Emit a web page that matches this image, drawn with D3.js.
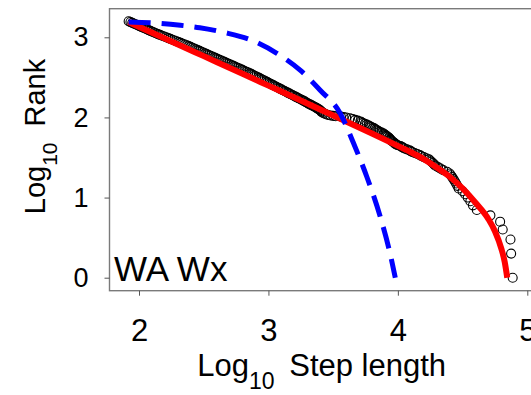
<!DOCTYPE html>
<html><head><meta charset="utf-8">
<script src="https://cdn.jsdelivr.net/npm/d3@7"></script>
<style>
body{margin:0;background:#fff}
svg{display:block}
text{font-family:"Liberation Sans",Arial,sans-serif;fill:#000}
</style>
</head><body>
<svg id="c" width="531" height="395"></svg>
<script>
// ---------- data ----------
const xTicks = [2, 3, 4, 5];
const yTicks = [0, 1, 2, 3];
const panelLabel = "WA Wx";

// observed points: log10 rank and log10 step length
const obsLogRank = [
3.20,3.19,3.18,3.17,3.16,3.15,3.14,3.13,3.12,3.11,3.10,3.09,3.08,3.07,3.06,3.05,3.04,3.03,3.02,3.01,
3.00,2.99,2.98,2.97,2.96,2.95,2.94,2.93,2.92,2.91,2.90,2.89,2.88,2.87,2.86,2.85,2.84,2.83,2.82,2.81,
2.80,2.79,2.78,2.77,2.76,2.75,2.74,2.73,2.72,2.71,2.70,2.69,2.68,2.67,2.66,2.65,2.64,2.63,2.62,2.61,
2.60,2.59,2.58,2.57,2.56,2.55,2.54,2.53,2.52,2.51,2.50,2.49,2.48,2.47,2.46,2.45,2.44,2.43,2.42,2.41,
2.40,2.39,2.38,2.37,2.36,2.35,2.34,2.33,2.32,2.31,2.30,2.29,2.28,2.27,2.26,2.25,2.24,2.23,2.22,2.21,
2.20,2.19,2.18,2.17,2.16,2.15,2.14,2.13,2.12,2.11,2.10,2.09,2.08,2.07,2.06,2.05,2.04,2.03,2.025,2.02,
2.015,2.01,2.005,2.00,1.99,1.98,1.97,1.96,1.95,1.94,1.93,1.92,1.91,1.90,1.89,1.88,1.87,1.86,1.85,1.84,
1.83,1.82,1.81,1.80,1.79,1.78,1.77,1.76,1.75,1.74,1.73,1.72,1.71,1.70,1.69,1.68,1.67,1.66,
1.653,1.643,1.633,1.623,1.613,1.602,1.591,1.580,1.568,1.556,1.544,1.531,1.519,1.505,1.491,1.477,
1.462,1.447,1.431,1.415,1.398,1.380,1.362,1.342,1.322,1.301,1.279,1.255,1.230,1.204,1.176,1.146,
1.114,1.079,1.041,1.000,0.954,0.903,0.845,0.778,0.699,0.602,0.477,0.301,0.000
];
const obsLogStep = [
1.920,1.934,1.948,1.962,1.976,1.990,2.004,2.018,2.032,2.046,2.060,2.074,2.088,2.102,2.116,2.130,2.146,2.162,2.178,2.194,
2.210,2.226,2.242,2.258,2.274,2.290,2.306,2.322,2.338,2.354,2.370,2.384,2.398,2.412,2.426,2.440,2.454,2.468,2.482,2.496,
2.510,2.524,2.538,2.552,2.566,2.580,2.594,2.608,2.622,2.636,2.650,2.664,2.678,2.692,2.706,2.720,2.734,2.748,2.762,2.776,
2.790,2.802,2.816,2.830,2.844,2.858,2.870,2.882,2.894,2.906,2.920,2.932,2.944,2.956,2.968,2.980,2.992,3.004,3.016,3.028,
3.040,3.052,3.064,3.076,3.088,3.100,3.112,3.124,3.136,3.148,3.160,3.172,3.184,3.196,3.208,3.220,3.232,3.244,3.256,3.268,
3.280,3.290,3.300,3.312,3.324,3.335,3.348,3.360,3.370,3.380,3.390,3.400,3.405,3.410,3.420,3.430,3.445,3.460,3.480,3.500,
3.520,3.560,3.580,3.600,3.630,3.650,3.670,3.690,3.710,3.720,3.730,3.745,3.760,3.775,3.785,3.795,3.810,3.820,3.830,3.840,
3.850,3.860,3.875,3.890,3.895,3.905,3.910,3.920,3.930,3.935,3.940,3.945,3.950,3.960,3.965,3.975,3.980,3.990,
4.00,4.02,4.03,4.04,4.05,4.07,4.09,4.10,4.11,4.13,4.15,4.17,4.18,4.20,4.22,4.24,
4.25,4.26,4.27,4.28,4.29,4.31,4.33,4.35,4.38,4.40,4.41,4.42,4.43,4.44,4.45,4.46,
4.47,4.50,4.52,4.54,4.56,4.58,4.61,4.715,4.79,4.81,4.87,4.875,4.887
];

// fitted curve (red, solid)
const fitLogStep = [1.92,2.2,2.5,2.8,3.0,3.2,3.4,3.6,3.8,4.0,4.1,4.2,4.3,4.4,4.5,4.6,4.7,4.75,4.8,4.825,4.845];
const fitLogRank = [3.19,2.985,2.765,2.545,2.397,2.249,2.10,1.95,1.80,1.645,1.565,1.48,1.375,1.26,1.115,0.935,0.73,0.58,0.36,0.20,0.00];

// alternative model (blue, dashed)
const altLogStep = [1.92,2.15,2.32,2.47,2.66,2.86,3.065,3.245,3.40,3.555,3.657,3.76,3.864,3.94,3.98];
const altLogRank = [3.19,3.175,3.15,3.12,3.06,2.97,2.80,2.59,2.34,2.05,1.68,1.26,0.76,0.30,0.00];

// ---------- drawing ----------
const svg = d3.select("#c");
const x = d3.scaleLinear().domain([2, 5]).range([139, 527.3]);
const y = d3.scaleLinear().domain([0, 3]).range([277.7, 37.3]);

// box
svg.append("rect")
  .attr("x", 109.5).attr("y", 8.7)
  .attr("width", 440).attr("height", 282)
  .attr("fill", "none").attr("stroke", "#7a7a7a").attr("stroke-width", 1.4);

// axes
const xAxis = svg.append("g").attr("transform", "translate(0,290.7)")
  .call(d3.axisBottom(x).tickValues(xTicks).tickSize(5).tickPadding(23).tickFormat(d3.format("d")));
xAxis.select(".domain").remove();
xAxis.selectAll("line").attr("stroke", "#555");
xAxis.selectAll("text").attr("font-size", 31).attr("fill", "#000")
  .style("font-family", "'Liberation Sans',Arial,sans-serif");

const yAxis = svg.append("g").attr("transform", "translate(109.5,0)")
  .call(d3.axisLeft(y).tickValues(yTicks).tickSize(5).tickPadding(16).tickFormat(d3.format("d")));
yAxis.select(".domain").remove();
yAxis.selectAll("line").attr("stroke", "#555");
yAxis.selectAll("text").attr("font-size", 27).attr("fill", "#000")
  .style("font-family", "'Liberation Sans',Arial,sans-serif");

// points
const pts = obsLogStep.map((s, i) => [s, obsLogRank[i]]);
svg.append("g").selectAll("circle").data(pts).join("circle")
  .attr("cx", d => x(d[0])).attr("cy", d => y(d[1])).attr("r", 4.5)
  .attr("fill", "none").attr("stroke", "#000").attr("stroke-width", 1.1);

// red fit
const line = d3.line().x(d => x(d[0])).y(d => y(d[1])).curve(d3.curveMonotoneX);
svg.append("path").datum(fitLogStep.map((s, i) => [s, fitLogRank[i]]))
  .attr("d", line).attr("fill", "none").attr("stroke", "#ff0000").attr("stroke-width", 6);

// blue dashed
svg.append("path").datum(altLogStep.map((s, i) => [s, altLogRank[i]]))
  .attr("d", line).attr("fill", "none").attr("stroke", "#0000ff").attr("stroke-width", 5)
  .attr("stroke-dasharray", "22,11");

// panel label
svg.append("text").attr("x", 114).attr("y", 281).attr("font-size", 35).text(panelLabel);

// x title
const xt = svg.append("text").attr("x", 321.7).attr("y", 376).attr("text-anchor", "middle").attr("font-size", 31);
xt.append("tspan").text("Log");
xt.append("tspan").attr("font-size", 23).attr("dy", 13).text("10");
xt.append("tspan").attr("dy", -13).attr("dx", 6).text(" Step length");

// y title
const yt = svg.append("text").attr("transform", "translate(45,136.5) rotate(-90)")
  .attr("text-anchor", "middle").attr("font-size", 29);
yt.append("tspan").text("Log");
yt.append("tspan").attr("font-size", 21).attr("dy", 12).text("10");
yt.append("tspan").attr("dy", -12).attr("dx", 8).text(" Rank");
</script>
</body></html>
